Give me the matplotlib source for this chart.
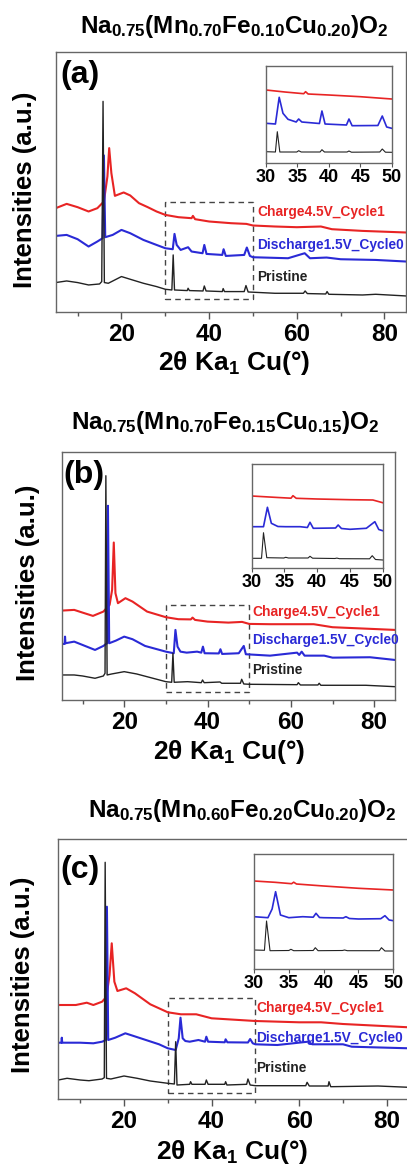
import numpy as np
import matplotlib
matplotlib.use("Agg")
import matplotlib.pyplot as plt
from matplotlib.patches import Rectangle

plt.rcParams['font.family'] = ['Liberation Sans', 'DejaVu Sans']
plt.rcParams['font.weight'] = 'bold'
plt.rcParams['mathtext.fontset'] = 'custom'
plt.rcParams['mathtext.rm'] = 'Liberation Sans'
plt.rcParams['mathtext.bf'] = 'Liberation Sans:bold'
plt.rcParams['mathtext.it'] = 'Liberation Sans:italic'

# ---- data (2theta, intensity in arbitrary units) ----
titles = [r'$\mathbf{Na_{0.75}(Mn_{0.70}Fe_{0.10}Cu_{0.20})O_2}$',
          r'$\mathbf{Na_{0.75}(Mn_{0.70}Fe_{0.15}Cu_{0.15})O_2}$',
          r'$\mathbf{Na_{0.75}(Mn_{0.60}Fe_{0.20}Cu_{0.20})O_2}$']
panel_tags = ['(a)', '(b)', '(c)']
series_names = ['Charge4.5V_Cycle1', 'Discharge1.5V_Cycle0', 'Pristine']
series_colors = ['#e82424', '#2a2ad6', '#222222']
zoom_range = [30, 50]
main_xticks = [20, 40, 60, 80]
inset_xticks = [30, 35, 40, 45, 50]

# panel (a)
a_charge = [(5, 104), (7.5, 108.3), (10, 105), (12.5, 100.7), (14.5, 104), (16, 110.7),
            (16.8, 135.7), (17.2, 164), (17.7, 139), (18.5, 116.3), (20.5, 119.7), (22, 116.7),
            (24, 109), (26, 105), (28, 100.7), (30, 97.3), (33, 95), (36, 94), (36.3, 96.3),
            (36.8, 93), (40, 90.7), (45, 89), (48.5, 88.3), (50, 86.7), (55, 85.7), (60, 85),
            (65.5, 85.7), (68, 83), (75, 81.3), (85, 79.7)]
a_discharge = [(5, 76.3), (7.5, 77.3), (10, 73), (12.5, 65.7), (14.5, 70.7), (15.7, 74),
               (16.0, 156.7), (16.3, 75), (18, 77.3), (20, 82.3), (22, 79), (25, 72.3),
               (28, 67.3), (30, 64), (31.7, 63), (32.1, 78.3), (32.6, 67.3), (33.5, 62.3),
               (35.2, 65), (36, 60.7), (38.5, 59), (38.9, 67.3), (39.4, 58.3), (43.0, 57.3),
               (43.3, 63), (43.8, 56.3), (48, 57.3), (48.6, 64.7), (49.3, 56.3), (50, 55),
               (58, 54), (61.8, 59), (63, 54), (66.8, 54.7), (70, 53), (78, 52.3), (85, 50.7)]
a_pristine = [(5, 29.7), (7.5, 31.3), (10, 29.7), (12.5, 27.3), (15, 28.3), (15.5, 30.7),
              (15.8, 210.7), (16.1, 29.7), (17, 29), (20, 35.7), (22, 33), (25, 29), (28, 25.7),
              (30, 23), (31.5, 22.3), (31.8, 57.3), (32.1, 22.3), (35.0, 21.7), (35.2, 24),
              (35.5, 21.7), (38.6, 21.3), (38.9, 26.3), (39.3, 21.3), (43.0, 20.7), (43.2, 23.7),
              (43.5, 20.7), (48.0, 20.7), (48.4, 26.7), (48.9, 20.3), (55, 19), (61.5, 19),
              (61.9, 21.3), (62.4, 18.7), (66.6, 18.3), (66.9, 20.7), (67.3, 18), (75, 17.3),
              (78, 18), (85, 16.3)]
a_inset_charge = [(30, 73), (33, 71), (36.0, 69.3), (36.3, 71.3), (36.7, 69), (40, 68),
                  (45, 66.3), (50, 64)]
a_inset_discharge = [(30, 39.7), (31.5, 39), (32.1, 65.7), (32.7, 49.7), (33.5, 43.7),
                     (34.8, 41), (35.2, 44), (35.7, 41), (38.5, 39.5), (38.9, 52), (39.4, 39),
                     (42.8, 38), (43.2, 44), (43.7, 37.3), (47.8, 37.5), (48.5, 47),
                     (49.2, 36), (50, 34.7)]
a_inset_pristine = [(30, 11.3), (31.5, 11), (31.8, 31.3), (32.2, 11), (34.9, 11), (35.2, 12.3),
                    (35.6, 11), (38.6, 11), (38.9, 13.3), (39.3, 11), (42.9, 11), (43.2, 12),
                    (43.6, 10.8), (48.1, 11), (48.5, 14), (49.0, 10.8), (50, 10.7)]

# panel (b)
b_charge = [(5, 89.3), (8, 90), (10, 87.3), (12.5, 84), (15, 88.3), (16.5, 95), (17.1, 110),
            (17.5, 157.3), (17.9, 106.7), (18.5, 96.7), (20.3, 101.7), (22, 98.3),
            (25.5, 88.3), (30, 82.7), (33, 80.7), (36.0, 80.5), (36.4, 82.3), (37, 80),
            (40, 78.3), (45, 77.3), (48.3, 78), (50, 76), (55, 75.7), (65.5, 75.7),
            (70, 72.7), (85, 70)]
b_discharge = [(5, 56), (5.7, 56), (5.8, 63.3), (5.9, 56.7), (8, 58.3), (10, 55), (13, 50),
               (15, 54), (15.9, 56.7), (16.1, 194), (16.4, 56.7), (18, 59.3), (20, 63.3),
               (22, 60.7), (25, 54), (30, 48.3), (31.9, 46.7), (32.3, 70), (32.8, 53.3),
               (33.5, 48.3), (35, 47.3), (37.5, 48.3), (38.5, 47.3), (38.9, 53.3), (39.3, 46.7),
               (42.7, 46.5), (43.1, 50.7), (43.5, 46), (47.5, 46.7), (48.7, 54), (49.2, 45.7),
               (55, 44.3), (61.5, 47.3), (62.0, 45), (62.6, 48.3), (63.3, 44.3), (68, 44.3),
               (70, 42.3), (79, 42.7), (85, 40)]
b_pristine = [(5, 25), (8, 25), (10, 24), (13, 21.7), (15, 24), (15.4, 26.7), (15.6, 224),
              (15.9, 25), (17, 26), (20, 28.3), (23, 26), (26, 22.7), (30, 18.3), (31.4, 17.7),
              (31.7, 46.7), (32.0, 17.7), (35.2, 18.3), (38.5, 17.3), (38.8, 20), (39.2, 17.3),
              (43, 18), (43.4, 16.7), (47.9, 16.7), (48.2, 20.7), (48.7, 16), (50, 15.7),
              (61.5, 15.3), (61.8, 17.3), (62.3, 15), (66.5, 15), (66.8, 16.7), (67.2, 14.7),
              (78, 14.7), (85, 13.3)]
b_inset_charge = [(30, 72), (34, 70.5), (36.0, 69.8), (36.3, 72.3), (36.8, 69.7), (40, 69),
                  (45, 68.3), (48.5, 68), (50, 65.3)]
b_inset_discharge = [(30, 41.3), (31.8, 41.3), (32.4, 60.7), (33, 44.7), (34, 41.5),
                     (35.2, 41.3), (37.4, 41.3), (38.5, 40.5), (38.9, 45.7), (39.4, 39.7),
                     (42.8, 40), (43.2, 43), (43.7, 39.5), (45, 38.7), (47.5, 39.7),
                     (48.8, 46.3), (49.4, 38.5), (50, 37.3)]
b_inset_pristine = [(30, 9.7), (31.5, 9.7), (31.8, 35.3), (32.3, 10.3), (34.9, 10), (35.2, 10.7),
                    (35.6, 10), (38.6, 10), (38.9, 11.7), (39.3, 9.8), (42.7, 9.5), (43, 9.9),
                    (43.4, 9.3), (48.0, 9.2), (48.4, 12.3), (48.9, 8.5), (50, 8)]

# panel (c)
c_charge = [(5, 94), (9, 94), (11.5, 96.3), (13, 94), (15, 97.3), (16, 102.3), (16.7, 124),
            (17.2, 155.7), (17.8, 117.3), (18.5, 108), (20.5, 110.7), (22.5, 105.7),
            (26, 94.7), (30, 86.7), (33, 84.7), (36.5, 84.7), (40, 80.7), (50, 78),
            (60, 76.7), (65, 76.7), (70, 75), (85, 71.7)]
c_discharge = [(5, 56.3), (5.7, 56.3), (5.8, 61.3), (5.9, 56.3), (10, 56.3), (13, 55.7),
               (15, 57.3), (15.9, 59), (16.1, 192.3), (16.4, 59), (18, 61.3), (20.3, 65.7),
               (22, 63.3), (25, 59), (28, 54.7), (30, 50.7), (31.8, 49), (32.5, 60.7),
               (32.9, 81.3), (33.4, 60.7), (34, 58), (35, 57.3), (37, 59), (38.5, 57.3),
               (38.8, 62.3), (39.2, 57.3), (43.0, 56.7), (43.2, 59.7), (43.6, 56.7),
               (48.3, 56.5), (48.8, 60), (49.4, 55.7), (50, 54.7), (55, 54), (62, 57.3),
               (63, 54.7), (70, 54.7), (72, 52.3), (85, 50.7)]
c_pristine = [(5, 19), (7, 20.7), (10, 19), (12, 18.3), (15, 20), (15.5, 21.3), (15.7, 236.7),
              (16.0, 20.7), (17, 20), (20, 23), (23, 20.7), (26, 18), (30, 15.7), (31.5, 15),
              (31.8, 57.3), (32.1, 14), (35.0, 14.7), (35.2, 17.3), (35.5, 14.7), (38.5, 14.7),
              (38.8, 19), (39.2, 14.7), (43.0, 14.7), (43.2, 17.3), (43.5, 14), (48.0, 14.7),
              (48.3, 20), (48.8, 14), (50, 13.3), (61.5, 13.3), (61.8, 16.7), (62.3, 13),
              (66.6, 13), (66.8, 17.3), (67.2, 12.3), (78, 13), (85, 11.7)]
c_inset_charge = [(30, 88), (33, 86.7), (35.4, 85.3), (35.7, 86.8), (36.1, 85), (40, 83),
                  (45, 80.7), (50, 79)]
c_inset_discharge = [(30, 52.3), (32, 51.3), (32.6, 60), (33.1, 77.3), (33.8, 54), (35, 51.3),
                     (37, 52.3), (38.5, 51.8), (38.9, 55.7), (39.4, 51.5), (40, 51.3),
                     (42.8, 51), (43.2, 52.3), (43.7, 50.5), (45, 50), (48.2, 50.3),
                     (48.8, 53.3), (49.4, 49), (50, 48.3)]
c_inset_pristine = [(30, 19), (31.5, 18.7), (31.8, 48), (32.3, 18.3), (35.0, 18.5), (35.3, 19.7),
                    (35.7, 18.3), (38.5, 18.5), (38.8, 21.3), (39.2, 18.3), (42.7, 18.5),
                    (43, 19), (43.4, 18.3), (48.0, 18.3), (48.3, 21.3), (48.8, 18), (50, 18)]

main_series = [[a_charge, a_discharge, a_pristine],
               [b_charge, b_discharge, b_pristine],
               [c_charge, c_discharge, c_pristine]]
inset_series = [[a_inset_charge, a_inset_discharge, a_inset_pristine],
                [b_inset_charge, b_inset_discharge, b_inset_pristine],
                [c_inset_charge, c_inset_discharge, c_inset_pristine]]
main_ylims = [260, 248, 260]
inset_ylims = [97, 104, 115]
box_y = [(13.3, 110.3), (8, 95), (5.7, 101)]
label_x = [50.9, 50.8, 50.2]
label_y = [(100, 67, 35), (88, 60, 30), (91, 61, 31)]

# ---- layout (pixels of the 407x1164 image) ----
W, H = 407, 1164
main_px = [(55.7, 52, 350.7, 260.3), (61.7, 451.7, 333.3, 248.3), (58.3, 839, 350.4, 260)]
inset_px = [(266, 66, 125.7, 97), (251.7, 464, 131, 104), (254, 854, 139.3, 115)]
title_px = [(234, 27), (225, 423), (242, 810)]
ylabel_px = [(25, 190), (28, 583), (23, 975)]
xlabel_px = [(234, 363), (229.5, 752), (232, 1152)]
tag_pos = [(0.012, 0.913), (0.006, 0.907), (0.006, 0.88)]


def rect(px):
    x, y, w, h = px
    return [x / W, 1 - (y + h) / H, w / W, h / H]


fig = plt.figure(figsize=(W / 100, H / 100), dpi=100)

for i in range(3):
    ax = fig.add_axes(rect(main_px[i]))
    for pts, col in zip(main_series[i], series_colors):
        xy = np.array(pts).T
        ax.plot(xy[0], xy[1], color=col, lw=1.0 if col == '#222222' else 1.5)
    ax.set_xlim(5, 85)
    ax.set_ylim(0, main_ylims[i])
    ax.set_yticks([])
    ax.set_xticks(main_xticks)
    ax.set_xticks([10, 30, 50, 70], minor=True)
    ax.tick_params(axis='x', which='major', length=5, width=1, color='#555555',
                   labelsize=17.5, pad=3)
    ax.tick_params(axis='x', which='minor', length=3, width=1, color='#555555')
    for s in ax.spines.values():
        s.set_color('#666666')
        s.set_linewidth(1.0)
    y0, y1 = box_y[i]
    ax.add_patch(Rectangle((zoom_range[0], y0), zoom_range[1] - zoom_range[0], y1 - y0,
                           fill=False, ls=(0, (4, 3)), lw=1.0, ec='#444444'))
    for name, col, yy in zip(series_names, series_colors, label_y[i]):
        ax.text(label_x[i], yy, name, color=col, fontsize=9.9, fontweight='bold',
                ha='left', va='center')
    ax.text(tag_pos[i][0], tag_pos[i][1], panel_tags[i], transform=ax.transAxes,
            fontsize=23, fontweight='bold', ha='left', va='center')

    ins = fig.add_axes(rect(inset_px[i]))
    for pts, col in zip(inset_series[i], series_colors):
        xy = np.array(pts).T
        ins.plot(xy[0], xy[1], color=col, lw=0.8 if col == '#222222' else 1.2)
    ins.set_xlim(zoom_range)
    ins.set_ylim(0, inset_ylims[i])
    ins.set_yticks([])
    ins.set_xticks(inset_xticks)
    ins.tick_params(axis='x', length=3, width=0.8, color='#555555', labelsize=13, pad=1.5)
    for s in ins.spines.values():
        s.set_color('#666666')
        s.set_linewidth(1.0)

    fig.text(title_px[i][0] / W, 1 - title_px[i][1] / H, titles[i], fontsize=17.5,
             ha='center', va='center')
    fig.text(ylabel_px[i][0] / W, 1 - ylabel_px[i][1] / H, 'Intensities (a.u.)',
             fontsize=18.5, fontweight='bold', rotation=90, ha='center', va='center')
    fig.text(xlabel_px[i][0] / W, 1 - xlabel_px[i][1] / H, r'2θ Ka$_\mathbf{1}$ Cu(°)',
             fontsize=19, fontweight='bold', ha='center', va='center')

fig.savefig('out.png', dpi=100)
